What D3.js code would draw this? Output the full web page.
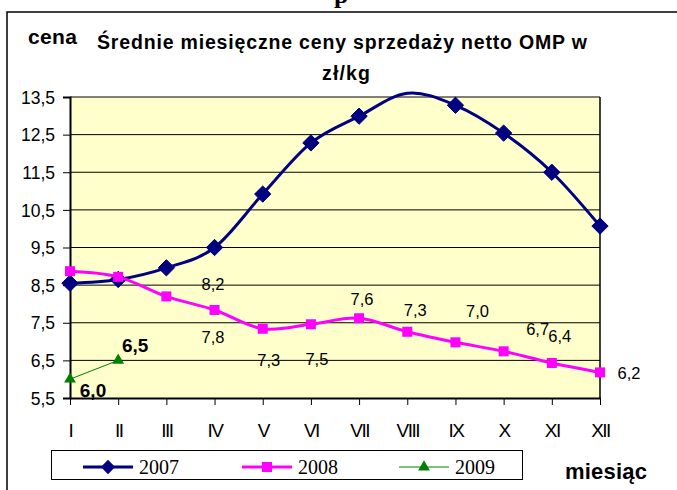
<!DOCTYPE html>
<html>
<head>
<meta charset="utf-8">
<script src="https://cdn.jsdelivr.net/npm/d3@7"></script>
<style>
  html, body { margin: 0; padding: 0; background: #fff; }
  svg { display: block; }
</style>
</head>
<body>
<svg id="chart" width="677" height="490"></svg>
<script>
// ---- data ----
const months = ["I","II","III","IV","V","VI","VII","VIII","IX","X","XI","XII"];
const values2007 = [8.55, 8.65, 8.96, 9.5, 10.92, 12.28, 12.99, 13.6, 13.28, 12.54, 11.5, 10.07];
const values2008 = [8.87, 8.72, 8.2, 7.84, 7.34, 7.46, 7.62, 7.26, 6.98, 6.74, 6.43, 6.18];
const values2009 = [6.0, 6.5];
const yTicks = [5.5, 6.5, 7.5, 8.5, 9.5, 10.5, 11.5, 12.5, 13.5];
const seriesNames = ["2007", "2008", "2009"];
const labeled2008 = [2, 3, 4, 5, 6, 7, 8, 9, 10, 11];   // indices with data labels
const titleText = "Średnie miesięczne ceny sprzedaży netto OMP w";
const titleText2 = "zł/kg";
const yAxisTitle = "cena";
const xAxisTitle = "miesiąc";

// ---- layout (positions, not data) ----
const label2008Offsets = [[46.6,-12.4],[-1.5,26.8],[6,31],[6,35],[3,-19],[8,-22],[22,-31],[34,-22],[8,-27],[29,1]];
const label2009Offsets = [[23,11],[17,-15]];

const svg = d3.select("#chart");
const plot = {left: 70, right: 600, top: 97, bottom: 398};
const x = d3.scalePoint().domain(months).range([plot.left, plot.right]).padding(0);
const y = d3.scaleLinear().domain([5.5, 13.5]).range([plot.bottom, plot.top]);
const fmt = v => d3.format(".1f")(v).replace(".", ",");
const SANS = "'Liberation Sans', Arial, sans-serif";
const SERIF = "'Liberation Serif', 'Times New Roman', serif";

// outer frame (top + left)
svg.append("path").attr("d", "M7,490 V12 H677").attr("fill","none").attr("stroke","#000").attr("stroke-width",1.5);
// cut-off heading glyph above frame
svg.append("text").attr("x", 334).attr("y", 3).attr("font-family", SERIF).attr("font-weight","bold")
  .attr("font-size", 26).text("p");

// plot background
svg.append("rect").attr("x", plot.left).attr("y", plot.top)
  .attr("width", plot.right - plot.left).attr("height", plot.bottom - plot.top)
  .attr("fill", "#FFFFCC");

// gridlines
svg.append("g").selectAll("line").data(yTicks.filter(t => t > 5.5)).join("line")
  .attr("x1", plot.left).attr("x2", plot.right)
  .attr("y1", d => y(d)).attr("y2", d => y(d))
  .attr("stroke", "#000").attr("stroke-width", 1);
// right border
svg.append("line").attr("x1", plot.right).attr("x2", plot.right).attr("y1", plot.top).attr("y2", plot.bottom)
  .attr("stroke","#000").attr("stroke-width",1.5);

// y axis
const yAxis = d3.axisLeft(y).tickValues(yTicks).tickSize(7).tickFormat(fmt);
const gy = svg.append("g").attr("transform", `translate(${plot.left},0)`).call(yAxis);
gy.select(".domain").attr("stroke","#000").attr("stroke-width",2);
gy.selectAll(".tick line").attr("stroke","#000").attr("stroke-width",1);
gy.selectAll(".tick text").attr("font-family", SANS).attr("font-size", 17.5).attr("fill","#000")
  .attr("x", -15).attr("dy", "0.35em");

// x axis
const xAxis = d3.axisBottom(x).tickSize(7).tickSizeOuter(0);
const gx = svg.append("g").attr("transform", `translate(0,${plot.bottom})`).call(xAxis);
gx.select(".domain").attr("stroke","#000").attr("stroke-width",2);
gx.selectAll(".tick line").attr("stroke","#000").attr("stroke-width",1);
gx.selectAll(".tick text").attr("font-family", SANS).attr("font-size", 19).attr("fill","#000")
  .attr("y", 39).attr("dy", 0).attr("letter-spacing", "-1.5");

// lines
const smooth = d3.line().x((d,i) => x(months[i])).y(d => y(d)).curve(d3.curveCardinal.tension(0));
const straight = d3.line().x((d,i) => x(months[i])).y(d => y(d));

const c2007 = "#000080", c2008 = "#FF00FF", c2009 = "#008000";

svg.append("path").datum(values2007).attr("d", smooth).attr("fill","none")
  .attr("stroke", c2007).attr("stroke-width", 3);
svg.append("g").selectAll("path").data(values2007.map((v,i)=>({v,i})).filter(d => d.v <= 13.5)).join("path")
  .attr("d", d3.symbol(d3.symbolDiamond2, 170))
  .attr("transform", d => `translate(${x(months[d.i])},${y(d.v)})`)
  .attr("fill", c2007).attr("stroke", c2007).attr("stroke-width", 1);

svg.append("path").datum(values2008).attr("d", smooth).attr("fill","none")
  .attr("stroke", c2008).attr("stroke-width", 3);
svg.append("g").selectAll("rect").data(values2008).join("rect")
  .attr("x", (d,i) => x(months[i]) - 5).attr("y", d => y(d) - 5)
  .attr("width", 10).attr("height", 10).attr("fill", c2008);

svg.append("path").datum(values2009).attr("d", straight).attr("fill","none")
  .attr("stroke", c2009).attr("stroke-width", 1);
svg.append("g").selectAll("path").data(values2009).join("path")
  .attr("d", d3.symbol(d3.symbolTriangle, 60))
  .attr("transform", (d,i) => `translate(${x(months[i])},${y(d)})`)
  .attr("fill", c2009);

// data labels 2008
svg.append("g").selectAll("text").data(labeled2008).join("text")
  .attr("x", (d,k) => x(months[d]) + label2008Offsets[k][0])
  .attr("y", (d,k) => y(values2008[d]) + label2008Offsets[k][1])
  .attr("dy", "0.35em").attr("text-anchor", "middle")
  .attr("font-family", SANS).attr("font-size", 16.5).attr("fill", "#000")
  .text(d => fmt(values2008[d]));
// data labels 2009
svg.append("g").selectAll("text").data(values2009).join("text")
  .attr("x", (d,i) => x(months[i]) + label2009Offsets[i][0])
  .attr("y", (d,i) => y(d) + label2009Offsets[i][1])
  .attr("dy", "0.35em").attr("text-anchor", "middle")
  .attr("font-family", SANS).attr("font-size", 19).attr("font-weight","bold").attr("fill", "#000")
  .text(d => fmt(d));

// titles
svg.append("text").attr("x", 97).attr("y", 49).attr("font-family", SANS).attr("font-weight","bold")
  .attr("font-size", 19.5).attr("textLength", 490).attr("lengthAdjust","spacing").text(titleText);
svg.append("text").attr("x", 322).attr("y", 80).attr("font-family", SANS).attr("font-weight","bold")
  .attr("font-size", 19.5).attr("textLength", 48).attr("lengthAdjust","spacing").text(titleText2);
svg.append("text").attr("x", 28).attr("y", 44).attr("font-family", SANS).attr("font-weight","bold")
  .attr("font-size", 21).attr("textLength", 49).attr("lengthAdjust","spacing").text(yAxisTitle);
svg.append("text").attr("x", 565).attr("y", 479).attr("font-family", SANS).attr("font-weight","bold")
  .attr("font-size", 22).attr("textLength", 82).attr("lengthAdjust","spacing").text(xAxisTitle);

// legend
const lg = svg.append("g");
lg.append("rect").attr("x", 51.5).attr("y", 450.5).attr("width", 471).attr("height", 29)
  .attr("fill", "#fff").attr("stroke", "#000").attr("stroke-width", 1);
const legendItems = [
  {name: seriesNames[0], color: c2007, x0: 83, w: 3, sym: "diamond"},
  {name: seriesNames[1], color: c2008, x0: 242, w: 3, sym: "square"},
  {name: seriesNames[2], color: c2009, x0: 399, w: 1, sym: "triangle"}
];
const ly = 467;
legendItems.forEach(it => {
  lg.append("line").attr("x1", it.x0).attr("x2", it.x0 + 50).attr("y1", ly).attr("y2", ly)
    .attr("stroke", it.color).attr("stroke-width", it.w);
  const cx = it.x0 + 25;
  if (it.sym === "diamond") {
    lg.append("path").attr("d", d3.symbol(d3.symbolDiamond2, 130)).attr("transform", `translate(${cx},${ly})`).attr("fill", it.color);
  } else if (it.sym === "square") {
    lg.append("rect").attr("x", cx - 5).attr("y", ly - 5).attr("width", 10).attr("height", 10).attr("fill", it.color);
  } else {
    lg.append("path").attr("d", d3.symbol(d3.symbolTriangle, 60)).attr("transform", `translate(${cx},${ly})`).attr("fill", it.color);
  }
  lg.append("text").attr("x", it.x0 + 56).attr("y", 473.5).attr("font-family", SERIF)
    .attr("font-size", 20).attr("fill", "#000").text(it.name);
});
</script>
</body>
</html>
